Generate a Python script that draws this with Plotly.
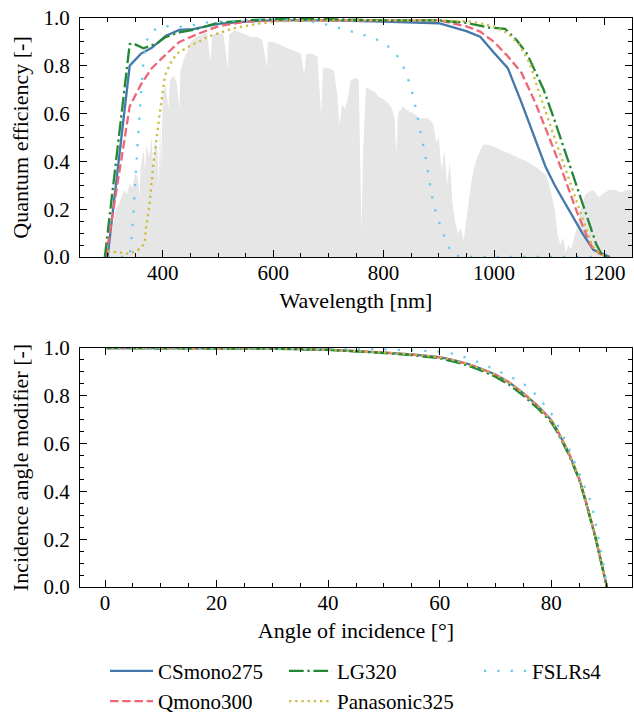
import plotly.graph_objects as go

# ---------------- data ----------------
# Solar spectrum (normalised), grey background
spec_wl = [280, 290, 295, 300, 305, 310, 315, 320, 325, 330, 335, 340, 345, 350, 355, 358, 360, 365, 368, 370,
           375, 380, 383, 385, 390, 393, 395, 397, 400, 405, 410, 413, 420, 425, 430, 432, 440, 445, 450, 455,
           460, 470, 480, 486, 490, 500, 510, 518, 520, 530, 540, 550, 560, 570, 580, 589, 590, 600, 610, 620,
           630, 640, 650, 656, 660, 670, 680, 687, 690, 700, 710, 716, 720, 725, 730, 735, 740, 750, 755, 760,
           763, 768, 775, 785, 790, 800, 810, 815, 820, 823, 826, 835, 845, 855, 865, 880, 890, 895, 900, 905,
           910, 915, 920, 925, 930, 935, 940, 945, 950, 955, 960, 965, 970, 980, 990, 1000, 1010, 1020, 1040, 1060,
           1080, 1095, 1100, 1105, 1110, 1115, 1120, 1125, 1130, 1135, 1140, 1145, 1150, 1155, 1160, 1165, 1170, 1180, 1190, 1200,
           1210, 1220, 1230, 1240, 1250]
spec_val = [0.0, 0.0, 0.01, 0.03, 0.08, 0.14, 0.20, 0.22, 0.25, 0.28, 0.26, 0.31, 0.29, 0.35, 0.33, 0.25, 0.38, 0.45, 0.36, 0.47,
            0.42, 0.50, 0.36, 0.48, 0.46, 0.30, 0.58, 0.35, 0.68, 0.72, 0.62, 0.74, 0.76, 0.73, 0.62, 0.78, 0.84, 0.86, 0.90, 0.91,
            0.92, 0.93, 0.94, 0.82, 0.93, 0.94, 0.93, 0.78, 0.93, 0.95, 0.94, 0.93, 0.92, 0.92, 0.91, 0.79, 0.90, 0.90, 0.89, 0.88,
            0.87, 0.86, 0.85, 0.76, 0.85, 0.85, 0.84, 0.59, 0.79, 0.79, 0.78, 0.68, 0.55, 0.64, 0.62, 0.66, 0.74, 0.75, 0.74, 0.11,
            0.45, 0.71, 0.70, 0.69, 0.67, 0.66, 0.64, 0.62, 0.58, 0.43, 0.60, 0.63, 0.61, 0.60, 0.58, 0.58, 0.56, 0.48, 0.50, 0.36,
            0.45, 0.30, 0.40, 0.22, 0.14, 0.10, 0.12, 0.07, 0.15, 0.25, 0.33, 0.38, 0.42, 0.47, 0.47, 0.46, 0.45, 0.44, 0.42, 0.40,
            0.37, 0.34, 0.30, 0.25, 0.20, 0.10, 0.05, 0.08, 0.02, 0.05, 0.03, 0.08, 0.12, 0.18, 0.22, 0.26, 0.27, 0.28, 0.25, 0.27,
            0.28, 0.28, 0.27, 0.28, 0.28]

# Quantum efficiency curves
cs_wl = [300, 340, 360, 380, 390, 405, 430, 455, 500, 550, 600, 700, 800, 900, 950, 975, 1000, 1025, 1050, 1075, 1093,
         1110, 1140, 1160, 1180, 1195, 1210]
cs_qe = [0.0, 0.80, 0.85, 0.875, 0.895, 0.925, 0.95, 0.953, 0.975, 0.985, 0.99, 0.99, 0.985, 0.978, 0.945, 0.922, 0.855,
         0.79, 0.645, 0.49, 0.38, 0.30, 0.18, 0.10, 0.03, 0.015, 0.0]

qm_wl = [297, 340, 360, 380, 400, 430, 460, 500, 550, 600, 700, 800, 900, 950, 975, 1000, 1025, 1050, 1075, 1100, 1125,
         1150, 1175, 1190, 1205]
qm_qe = [0.0, 0.63, 0.72, 0.79, 0.835, 0.90, 0.93, 0.965, 0.985, 0.99, 0.99, 0.99, 0.99, 0.965, 0.943, 0.90, 0.84, 0.77,
         0.645, 0.50, 0.35, 0.19, 0.05, 0.015, 0.0]

lg_wl = [295, 340, 345, 365, 390, 405, 430, 455, 500, 550, 600, 700, 800, 900, 950, 990, 1020, 1040, 1060, 1090, 1110,
         1135, 1160, 1185, 1195, 1205]
lg_qe = [0.0, 0.89, 0.895, 0.873, 0.894, 0.92, 0.94, 0.95, 0.98, 0.99, 0.995, 0.995, 0.99, 0.99, 0.98, 0.96, 0.955, 0.91,
         0.85, 0.70, 0.57, 0.40, 0.225, 0.055, 0.01, 0.0]

pa_wl = [300, 320, 340, 360, 367, 370, 376, 382, 388, 395, 404, 415, 425, 435, 450, 465, 480, 500, 530, 575, 610, 700,
         800, 900, 960, 1000, 1025, 1045, 1065, 1080, 1105, 1130, 1155, 1178, 1190, 1202]
pa_qe = [0.025, 0.02, 0.013, 0.035, 0.06, 0.13, 0.22, 0.37, 0.49, 0.61, 0.76, 0.815, 0.85, 0.865, 0.885, 0.90, 0.92, 0.936,
         0.958, 0.977, 0.987, 0.99, 0.99, 0.99, 0.985, 0.964, 0.936, 0.89, 0.81, 0.70, 0.53, 0.365, 0.197, 0.045, 0.02, 0.0]

fs_wl = [300, 340, 345, 350, 355, 360, 365, 370, 378, 400, 425, 450, 475, 500, 550, 600, 650, 670, 685, 708, 731, 755,
         778, 800, 818, 832, 841, 849, 855, 860, 865, 870, 875, 880, 886, 890, 897, 905, 913, 923, 940, 1000, 1100, 1200]
fs_qe = [0.0, 0.0, 0.12, 0.32, 0.50, 0.66, 0.82, 0.90, 0.943, 0.967, 0.962, 0.968, 0.98, 0.985, 0.99, 0.995, 0.99, 0.985,
         0.978, 0.967, 0.95, 0.936, 0.919, 0.897, 0.863, 0.817, 0.766, 0.713, 0.66, 0.605, 0.551, 0.49, 0.43, 0.36, 0.28,
         0.223, 0.169, 0.117, 0.066, 0.015, 0.0, 0.0, 0.0, 0.0]

# Incidence angle modifier curves
aoi = [0, 10, 20, 30, 40, 45, 50, 55, 60, 62.5, 65, 67.5, 70, 72.5, 75, 77.5, 80, 81, 82, 83, 84, 85, 86, 87, 87.5,
       88, 88.5, 89, 89.5, 90]
iam_cs = [1.0, 1.0, 0.999, 0.998, 0.993, 0.988, 0.981, 0.973, 0.962, 0.949, 0.934, 0.913, 0.889, 0.856, 0.811, 0.760,
          0.699, 0.660, 0.614, 0.569, 0.513, 0.455, 0.377, 0.294, 0.250, 0.204, 0.152, 0.100, 0.050, 0.0]
iam_qm = [1.0, 1.0, 0.999, 0.998, 0.993, 0.988, 0.981, 0.972, 0.961, 0.948, 0.933, 0.912, 0.888, 0.855, 0.810, 0.759,
          0.698, 0.660, 0.614, 0.569, 0.513, 0.455, 0.378, 0.295, 0.251, 0.205, 0.153, 0.101, 0.050, 0.0]
iam_lg = [1.0, 1.0, 0.999, 0.997, 0.992, 0.987, 0.979, 0.970, 0.957, 0.943, 0.927, 0.905, 0.880, 0.846, 0.801, 0.750,
          0.690, 0.652, 0.607, 0.562, 0.507, 0.450, 0.372, 0.290, 0.246, 0.201, 0.150, 0.098, 0.049, 0.0]
iam_pa = [1.0, 1.0, 0.999, 0.998, 0.993, 0.988, 0.981, 0.973, 0.962, 0.949, 0.934, 0.913, 0.889, 0.856, 0.811, 0.760,
          0.699, 0.660, 0.614, 0.569, 0.513, 0.455, 0.377, 0.294, 0.250, 0.204, 0.152, 0.100, 0.050, 0.0]
iam_fs = [1.0, 1.0, 1.0, 0.999, 0.998, 0.997, 0.995, 0.991, 0.985, 0.976, 0.958, 0.936, 0.910, 0.882, 0.852, 0.800,
          0.727, 0.686, 0.641, 0.590, 0.535, 0.472, 0.418, 0.363, 0.320, 0.262, 0.210, 0.148, 0.080, 0.0]

names = ["CSmono275", "Qmono300", "LG320", "Panasonic325", "FSLRs4"]
colors = ["#4477AA", "#EE6677", "#228833", "#CCBB44", "#66CCEE"]
dashes = ["solid", "8.5px,3.7px", "14.7px,3.7px,2.3px,3.7px", "2.3px,3.9px", "2.3px,11px"]
legends = ["legend", "legend", "legend2", "legend2", "legend3"]
qe_x = [cs_wl, qm_wl, lg_wl, pa_wl, fs_wl]
qe_y = [cs_qe, qm_qe, lg_qe, pa_qe, fs_qe]
iam_y = [iam_cs, iam_qm, iam_lg, iam_pa, iam_fs]

FONT = "Liberation Serif"
LW = 2.3

fig = go.Figure()
fig.add_trace(go.Scatter(x=spec_wl, y=spec_val, mode="lines", fill="tozeroy",
                         fillcolor="#e6e6e6", line=dict(width=0, color="#e6e6e6"),
                         showlegend=False, hoverinfo="skip", xaxis="x", yaxis="y"))
for i in range(5):
    fig.add_trace(go.Scatter(x=qe_x[i], y=qe_y[i], mode="lines", name=names[i],
                             line=dict(color=colors[i], width=LW, dash=dashes[i]),
                             legend=legends[i], xaxis="x", yaxis="y"))
for i in range(5):
    fig.add_trace(go.Scatter(x=aoi, y=iam_y[i], mode="lines", name=names[i],
                             line=dict(color=colors[i], width=LW, dash=dashes[i]),
                             showlegend=False, xaxis="x2", yaxis="y2"))


def tfont(size):
    return dict(family=FONT, size=size)


axis_common = dict(showgrid=False, zeroline=False, showline=True, linecolor="black", linewidth=1.3,
                   mirror="allticks", ticks="inside", ticklen=7, tickwidth=1.2, tickcolor="black",
                   tickfont=tfont(21))
minor_common = dict(ticks="inside", ticklen=3.5, tickwidth=1, tickcolor="black", tick0=0)
leg_common = dict(y=-0.112, xanchor="left", yanchor="top", orientation="v", itemwidth=43,
                  font=tfont(21), bgcolor="rgba(0,0,0,0)", tracegroupgap=0)

fig.update_layout(
    template="none",
    width=634, height=713,
    margin=dict(l=80, r=2, t=18, b=126, autoexpand=False),
    paper_bgcolor="white", plot_bgcolor="white",
    font=dict(family=FONT, size=21, color="black"),
    xaxis=dict(axis_common, domain=[0, 1], anchor="y", range=[250, 1250], tick0=0, dtick=200,
               ticklabelstandoff=-3, minor=dict(minor_common, dtick=50),
               title=dict(text="Wavelength [nm]", font=tfont(22), standoff=8)),
    yaxis=dict(axis_common, domain=[0.58, 1.0], anchor="x", range=[0, 1], tick0=0, dtick=0.2, tickformat=".1f",
               ticklabelstandoff=5, minor=dict(minor_common, dtick=0.05),
               title=dict(text="Quantum efficiency [-]", font=tfont(22), standoff=8)),
    xaxis2=dict(axis_common, domain=[0, 1], anchor="y2", range=[-4.5, 94.5], tick0=0, dtick=20,
                ticklabelstandoff=-3, minor=dict(minor_common, dtick=5),
                title=dict(text="Angle of incidence [°]", font=tfont(22), standoff=8)),
    yaxis2=dict(axis_common, domain=[0, 0.42], anchor="x2", range=[0, 1], tick0=0, dtick=0.2, tickformat=".1f",
                ticklabelstandoff=5, minor=dict(minor_common, dtick=0.05),
                title=dict(text="Incidence angle modifier [-]", font=tfont(22), standoff=8)),
    legend=dict(leg_common, x=0.0453),
    legend2=dict(leg_common, x=0.3696),
    legend3=dict(leg_common, x=0.7228),
)

js = """
document.body.style.margin='0px';
var gd = document.getElementById('{plot_id}');
function fixFonts(){
  document.querySelectorAll('.main-svg text').forEach(function(t){
    t.style.fontFamily='"Liberation Serif", serif';
  });
}
fixFonts();
"""
fig.write_html("out.html", config={"displayModeBar": False}, post_script=js)
